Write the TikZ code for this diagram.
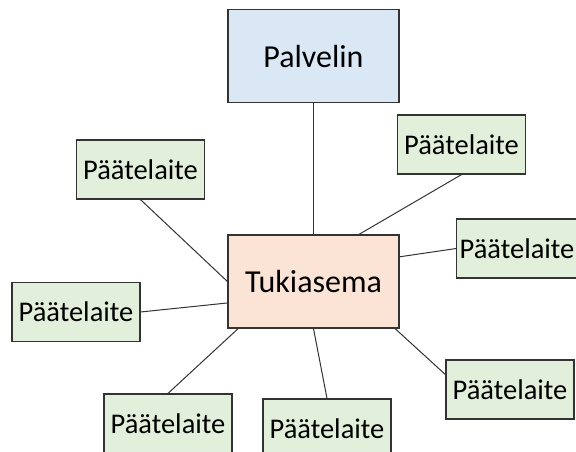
\documentclass[tikz,border=0pt]{standalone}
\usepackage{fontspec}
\setmainfont{Carlito}
\usetikzlibrary{positioning}
\definecolor{servblue}{HTML}{DAE8F5}
\definecolor{hubpeach}{HTML}{FBE4D6}
\definecolor{devgreen}{HTML}{E2EFDA}
\tikzset{
  box/.style={draw=black!80, rectangle, align=center, inner sep=1mm, line width=1.2pt},
  bigbox/.style={box, minimum width=171pt, minimum height=93pt, font=\fontsize{32}{37}\selectfont},
  devbox/.style={box, fill=devgreen, minimum width=128pt, minimum height=59pt, font=\fontsize{28.5}{33}\selectfont},
  link/.style={draw=black!80, line width=1pt}
}

\begin{document}
\begin{tikzpicture}[x=1pt, y=1pt]

\clip (0,0) rectangle (576,-452);

\node[bigbox, fill=hubpeach] (hub) at (313.5,-281.5) {Tukiasema};
\node[bigbox, fill=servblue, above=131pt of hub] (server) {Palvelin};

\node[devbox] (tl) at (140.5,-169.5) {Päätelaite};
\node[devbox] (ml) at (76,-312) {Päätelaite};
\node[devbox] (rt) at (461.5,-144.5) {Päätelaite};
\node[devbox, minimum width=118pt] (rm) at (517,-248.5) {Päätelaite};
\node[devbox] (rb) at (510,-389.5) {Päätelaite};
\node[devbox] (bl) at (168,-423.5) {Päätelaite};
\node[devbox] (bm) at (327,-428.5) {Päätelaite};

\draw[link] (server.south) -- (hub.north);
\draw[link] (tl.south) -- (hub.west);
\draw[link] (ml.east) -- (hub.194);
\draw[link] (rt.south) -- (hub.46);
\draw[link] (rm.west) -- (hub.16);
\draw[link] (rb.167) -- (hub.330);
\draw[link] (bl.north) -- (hub.212);
\draw[link] (bm.north) -- (hub.south);

\end{tikzpicture}
\end{document}
